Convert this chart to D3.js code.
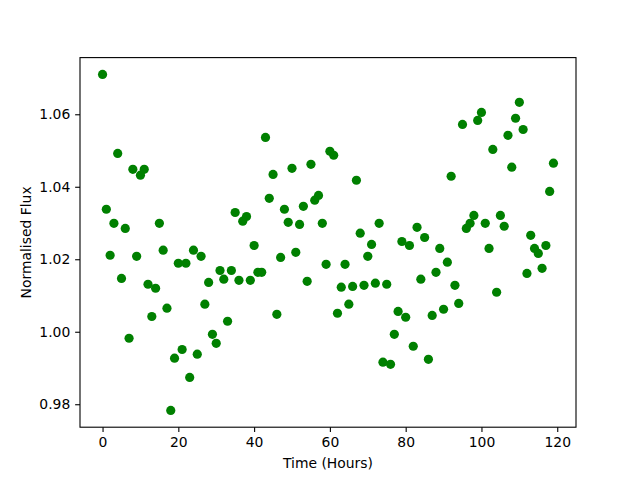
<!DOCTYPE html>
<html>
<head>
<meta charset="utf-8">
<script src="https://cdn.jsdelivr.net/npm/d3@7"></script>
<style>
  body { margin: 0; background: #fff; }
  svg { display: block; }
  text { font-family: "DejaVu Sans", sans-serif; }
</style>
</head>
<body>
<svg id="chart" width="640" height="480"></svg>
<script>
const hours = d3.range(0, 120);
const flux = [
  1.0710, 1.0338, 1.0211, 1.0299, 1.0492, 1.0147, 1.0285, 0.9982, 1.0448, 1.0208,
  1.0432, 1.0448, 1.0131, 1.0042, 1.0120, 1.0299, 1.0225, 1.0065, 0.9783, 0.9927,
  1.0189, 0.9951, 1.0189, 0.9874, 1.0225, 0.9938, 1.0208, 1.0076, 1.0136, 0.9993,
  0.9968, 1.0169, 1.0145, 1.0029, 1.0169, 1.0329, 1.0142, 1.0305, 1.0318, 1.0142,
  1.0238, 1.0164, 1.0164, 1.0536, 1.0368, 1.0434, 1.0048, 1.0205, 1.0338, 1.0302,
  1.0451, 1.0219, 1.0296, 1.0346, 1.0139, 1.0462, 1.0363, 1.0376, 1.0299, 1.0186,
  1.0498, 1.0487, 1.0051, 1.0123, 1.0186, 1.0076, 1.0125, 1.0418, 1.0272, 1.0128,
  1.0208, 1.0241, 1.0134, 1.0299, 0.9916, 1.0131, 0.9910, 0.9993, 1.0056, 1.0249,
  1.0040, 1.0238, 0.9960, 1.0288, 1.0145, 1.0260, 0.9924, 1.0045, 1.0164, 1.0230,
  1.0062, 1.0192, 1.0429, 1.0128, 1.0078, 1.0572, 1.0285, 1.0299, 1.0321, 1.0583,
  1.0605, 1.0299, 1.0230, 1.0503, 1.0109, 1.0321, 1.0291, 1.0542, 1.0454, 1.0589,
  1.0633, 1.0558, 1.0161, 1.0266, 1.0230, 1.0216, 1.0175, 1.0238, 1.0387, 1.0465
];
const xTicks = [0, 20, 40, 60, 80, 100, 120];
const yTicks = [0.98, 1.00, 1.02, 1.04, 1.06];
const xLabel = "Time (Hours)";
const yLabel = "Normalised Flux";

const svg = d3.select("#chart");
const plotLeft = 80, plotRight = 576, plotTop = 57.6, plotBottom = 427.2;

function padded(ext) {
  const m = (ext[1] - ext[0]) * 0.05;
  return [ext[0] - m, ext[1] + m];
}
const x = d3.scaleLinear().domain(padded(d3.extent(hours))).range([plotLeft, plotRight]);
const y = d3.scaleLinear().domain(padded(d3.extent(flux))).range([plotBottom, plotTop]);

const tickLen = 4.86;
const xAxis = d3.axisBottom(x).tickValues(xTicks).tickFormat(d3.format("d"))
  .tickSizeInner(tickLen).tickSizeOuter(0).tickPadding(4.86);
const yAxis = d3.axisLeft(y).tickValues(yTicks).tickFormat(d3.format(".2f"))
  .tickSizeInner(tickLen).tickSizeOuter(0).tickPadding(4.86);

svg.append("g")
  .selectAll("circle")
  .data(hours)
  .join("circle")
  .attr("cx", (d) => x(d))
  .attr("cy", (d, i) => y(flux[i]))
  .attr("r", 4.6)
  .attr("fill", "#008000");

const gx = svg.append("g").attr("transform", `translate(0,${plotBottom})`).call(xAxis);
const gy = svg.append("g").attr("transform", `translate(${plotLeft},0)`).call(yAxis);
[gx, gy].forEach(g => {
  g.select(".domain").remove();
  g.selectAll(".tick line").attr("stroke", "#000").attr("stroke-width", 1.1);
  g.selectAll(".tick text").attr("fill", "#000").style("font-size", "13.9px")
    .style("font-family", "'DejaVu Sans', sans-serif");
});

svg.append("rect")
  .attr("x", plotLeft).attr("y", plotTop)
  .attr("width", plotRight - plotLeft).attr("height", plotBottom - plotTop)
  .attr("fill", "none").attr("stroke", "#000").attr("stroke-width", 1.1);

svg.append("text")
  .attr("x", (plotLeft + plotRight) / 2).attr("y", 468)
  .attr("text-anchor", "middle")
  .style("font-size", "13.9px")
  .text(xLabel);

svg.append("text")
  .attr("transform", `translate(31,${(plotTop + plotBottom) / 2}) rotate(-90)`)
  .attr("text-anchor", "middle")
  .style("font-size", "13.9px")
  .text(yLabel);
</script>
</body>
</html>
